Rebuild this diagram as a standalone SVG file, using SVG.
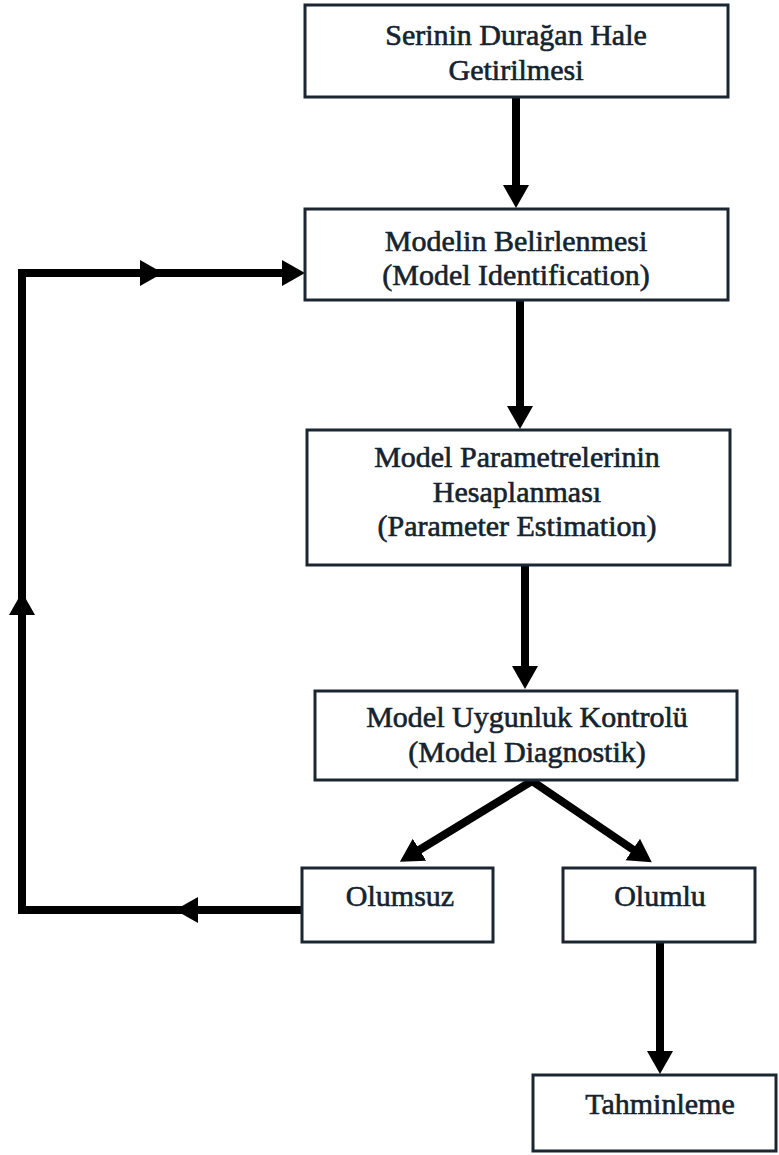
<svg xmlns="http://www.w3.org/2000/svg" width="779" height="1155" viewBox="0 0 779 1155">
<style>
.box{fill:#ffffff;stroke:#1b2630;stroke-width:3}
.t{font-family:"Liberation Serif","Times New Roman",serif;font-size:30px;fill:#15232e;stroke:#15232e;stroke-width:0.6;text-anchor:middle}
.c{fill:none;stroke:#000;stroke-width:8;stroke-linejoin:miter;stroke-linecap:butt}
</style>
<defs>
<marker id="ah" markerUnits="userSpaceOnUse" markerWidth="26" markerHeight="28" refX="10" refY="14" orient="auto">
<path d="M0,1 L23,14 L0,27 z" fill="#000"/>
</marker>
</defs>
<rect width="779" height="1155" fill="#ffffff"/>
<g id="connectors">
<path class="c" d="M516 97 V195" marker-end="url(#ah)"/>
<path class="c" d="M520 301 V416" marker-end="url(#ah)"/>
<path class="c" d="M525 566 V676" marker-end="url(#ah)"/>
<path class="c" d="M532 781 L411 855" marker-end="url(#ah)"/>
<path class="c" d="M532 781 L641 855" marker-end="url(#ah)"/>
<path class="c" d="M660 942 V1061" marker-end="url(#ah)"/>
<path class="c" d="M302 910 H188" marker-end="url(#ah)"/>
<path class="c" d="M188 910 H22 V605" marker-end="url(#ah)"/>
<path class="c" d="M22 605 V273 H150" marker-end="url(#ah)"/>
<path class="c" d="M150 273 H292" marker-end="url(#ah)"/>
</g>
<g id="n1">
<rect class="box" x="305" y="5" width="423" height="92"/>
<text class="t" x="516" y="45">Serinin Durağan Hale</text>
<text class="t" x="516" y="80">Getirilmesi</text>
</g>
<g id="n2">
<rect class="box" x="305" y="209" width="423" height="91"/>
<text class="t" x="516" y="251">Modelin Belirlenmesi</text>
<text class="t" x="516" y="285">(Model Identification)</text>
</g>
<g id="n3">
<rect class="box" x="307" y="430" width="423" height="135"/>
<text class="t" x="517" y="467">Model Parametrelerinin</text>
<text class="t" x="517" y="502">Hesaplanması</text>
<text class="t" x="517" y="536">(Parameter Estimation)</text>
</g>
<g id="n4">
<rect class="box" x="315" y="691" width="422" height="89"/>
<text class="t" x="527" y="727">Model Uygunluk Kontrolü</text>
<text class="t" x="527" y="762">(Model Diagnostik)</text>
</g>
<g id="n5">
<rect class="box" x="302" y="868" width="191" height="74"/>
<text class="t" x="400" y="906">Olumsuz</text>
</g>
<g id="n6">
<rect class="box" x="563" y="868" width="192" height="74"/>
<text class="t" x="660" y="906">Olumlu</text>
</g>
<g id="n7">
<rect class="box" x="533" y="1075" width="243" height="76"/>
<text class="t" x="660" y="1114">Tahminleme</text>
</g>
</svg>
